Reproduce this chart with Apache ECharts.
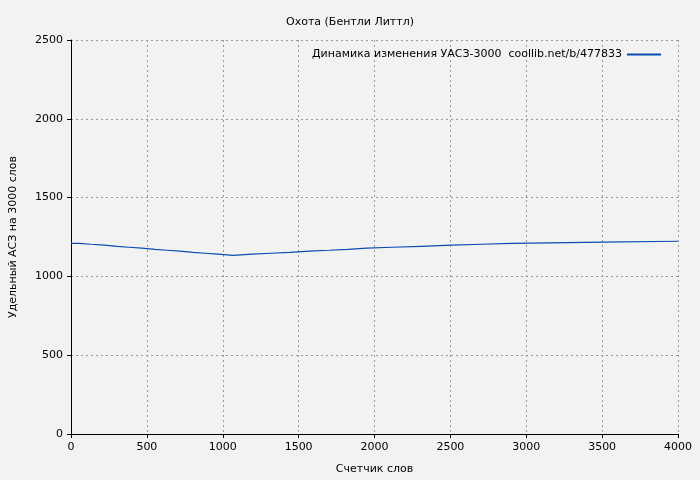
<!DOCTYPE html>
<html>
<head>
<meta charset="utf-8">
<script src="https://cdn.jsdelivr.net/npm/echarts@6/dist/echarts.min.js"></script>
<style>html,body{margin:0;padding:0;background:#f2f2f2}</style>
</head>
<body>
<div id="main" style="width:700px;height:480px"></div>
<script>
// step positions (words) and УАСЗ values
var wordCounts = [0, 53, 132, 219, 304, 383, 467, 554, 633, 717, 804, 883, 967, 1067, 1194, 1318, 1441, 1573, 1700, 1823, 1950, 2113, 2311, 2508, 2708, 2906, 3504, 4000];
var uasz = [1210, 1204, 1198, 1191, 1185, 1179, 1172, 1166, 1160, 1153, 1147, 1141, 1134, 1141, 1147, 1153, 1160, 1166, 1172, 1179, 1185, 1191, 1198, 1204, 1210, 1217, 1223, 1223];

var myChart = echarts.init(document.getElementById('main'));
var font = 'DejaVu Sans';
var plain = function (v) { return String(v); };
var option = {
  animation: false,
  backgroundColor: '#f2f2f2',
  textStyle: { fontFamily: font },
  title: {
    text: 'Охота (Бентли Литтл)',
    left: 'center', top: 12,
    textStyle: { fontSize: 11, fontWeight: 'normal', color: '#000', fontFamily: font }
  },
  legend: {
    right: 34, top: 44,
    itemWidth: 34, itemHeight: 2, itemGap: 8,
    align: 'right',
    data: ['Динамика изменения УАСЗ-3000  coollib.net/b/477833'],
    textStyle: { fontSize: 11, color: '#000', fontFamily: font },
    icon: 'rect'
  },
  grid: { left: 68, right: 22, top: 40, bottom: 46 },
  xAxis: {
    type: 'value', min: 0, max: 4000, interval: 500,
    name: 'Счетчик слов', nameLocation: 'middle', nameGap: 30,
    nameTextStyle: { fontSize: 11, color: '#000' },
    axisLine: { lineStyle: { color: '#000' } },
    axisTick: { lineStyle: { color: '#000' }, length: 4 },
    axisLabel: { fontSize: 11, color: '#000', formatter: plain },
    splitLine: { show: true, lineStyle: { color: '#999', type: [2, 3] } }
  },
  yAxis: {
    type: 'value', min: 0, max: 2500, interval: 500,
    name: 'Удельный АСЗ на 3000 слов', nameLocation: 'middle', nameGap: 52,
    nameTextStyle: { fontSize: 11, color: '#000' },
    axisLine: { show: true, lineStyle: { color: '#000' } },
    axisTick: { show: true, lineStyle: { color: '#000' }, length: 4 },
    axisLabel: { fontSize: 11, color: '#000', formatter: plain },
    splitLine: { show: true, lineStyle: { color: '#999', type: [2, 3] } }
  },
  series: [{
    name: 'Динамика изменения УАСЗ-3000  coollib.net/b/477833',
    type: 'line',
    step: 'end',
    symbol: 'none',
    itemStyle: { color: '#0a4bb0' },
    lineStyle: { color: '#0a4bb0', width: 1.2 },
    data: wordCounts.map(function (w, i) { return [w, uasz[i]]; })
  }]
};
myChart.setOption(option);
</script>
</body>
</html>
